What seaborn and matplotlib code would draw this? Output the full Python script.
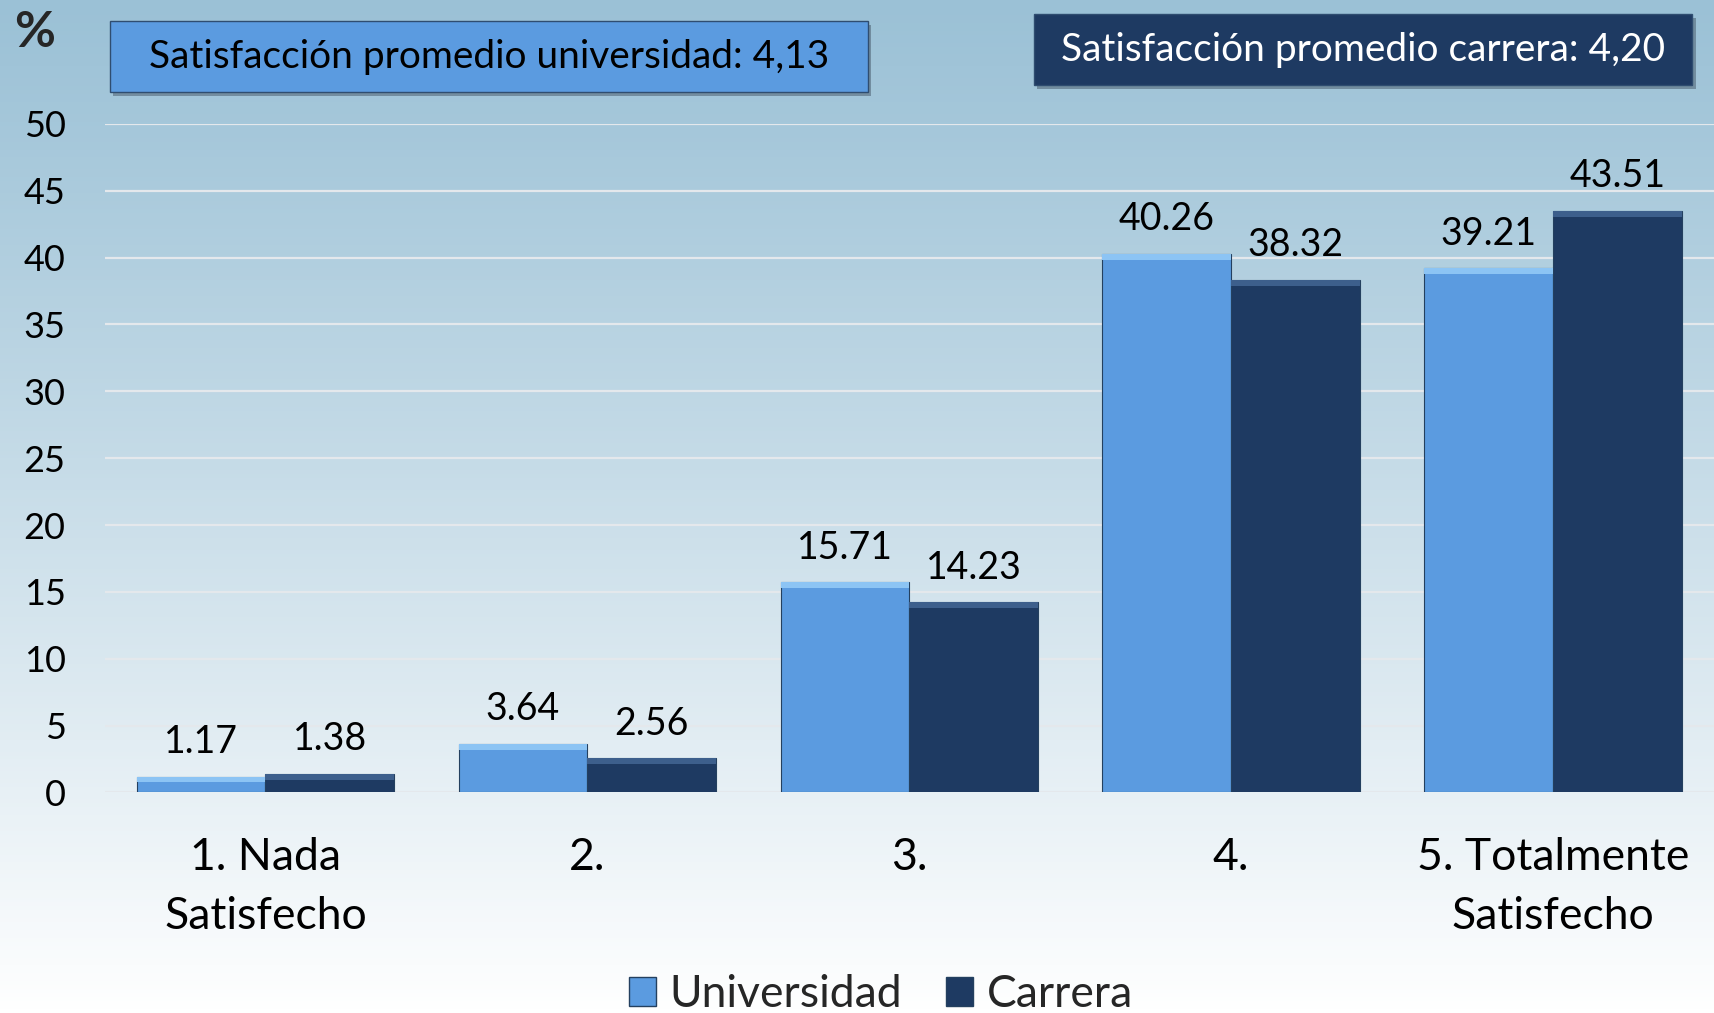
import numpy as np
import pandas as pd
import matplotlib
matplotlib.use("Agg")
import matplotlib.pyplot as plt
import seaborn as sns
from matplotlib.patches import Rectangle, Patch

# data
categories = ["1. Nada\nSatisfecho", "2.", "3.", "4.", "5. Totalmente\nSatisfecho"]
universidad = [1.17, 3.64, 15.71, 40.26, 39.21]
carrera = [1.38, 2.56, 14.23, 38.32, 43.51]
series_names = ["Universidad", "Carrera"]
avg_labels = ["Satisfacción promedio universidad: 4,13", "Satisfacción promedio carrera: 4,20"]
y_ticks = list(range(0, 55, 5))

colors = {"Universidad": "#5b9be0", "Carrera": "#1e3a62"}
tops = {"Universidad": "#8cc4f4", "Carrera": "#3d5f8c"}

df = pd.DataFrame({
    "cat": categories * 2,
    "serie": [series_names[0]] * 5 + [series_names[1]] * 5,
    "valor": universidad + carrera,
})

sns.set_theme(style="white")
plt.rcParams["font.family"] = ["Lato", "DejaVu Sans"]

fig = plt.figure(figsize=(17.14, 10.13), dpi=100)

# gradient background
bg = fig.add_axes([0, 0, 1, 1], zorder=-10)
grad = np.linspace(0, 1, 256).reshape(-1, 1)
top_c = np.array([155, 193, 214]) / 255
bot_c = np.array([255, 255, 255]) / 255
img = top_c + (bot_c - top_c) * grad ** 1.1
img = np.repeat(img[:, None, :], 2, axis=1)
bg.imshow(img, aspect="auto", extent=[0, 1, 0, 1])
bg.axis("off")

ax = fig.add_axes([0.061, 0.2177, 0.939, 0.66])
ax.patch.set_alpha(0)
sns.barplot(data=df, x="cat", y="valor", hue="serie", palette=colors,
            width=0.8, gap=0, saturation=1, ax=ax, legend=False, zorder=3,
            edgecolor="#24405f", linewidth=0.8)

ax.set_ylim(0, 50)
ax.set_yticks(y_ticks)
ax.set_xlim(-0.5, 4.5)
ax.yaxis.grid(True, color="#e4e8ec", linewidth=1.6, zorder=0)
for s in ax.spines.values():
    s.set_visible(False)
ax.set_xlabel("")
ax.set_ylabel("")
ax.tick_params(axis="y", labelsize=26, pad=28, length=0)
ax.tick_params(axis="x", labelsize=32, pad=32, length=0)
for t in ax.get_yticklabels():
    t.set_color("black")
for t in ax.get_xticklabels():
    t.set_color("black")
    t.set_linespacing(1.55)

# bevel strip and labels
for cont, name in zip(ax.containers, series_names):
    for bar in cont:
        h = bar.get_height()
        strip = min(0.45, h * 0.35)
        ax.add_patch(Rectangle((bar.get_x(), h - strip), bar.get_width(), strip,
                               facecolor=tops[name], edgecolor="none", zorder=4))
    ax.bar_label(cont, fmt="%.2f", padding=12, fontsize=27, color="black")

# "%" mark
fig.text(0.008, 0.968, "%", fontsize=36, fontweight="bold", va="center", ha="left")

# average boxes
boxes = [
    (0.0642, 0.909, 0.442, 0.070, "#5b9be0", "black"),
    (0.6033, 0.916, 0.384, 0.070, "#1e3a62", "white"),
]
for (x0, y0, w, h, fc, tc), txt in zip(boxes, avg_labels):
    fig.patches.append(Rectangle((x0 + 0.002, y0 - 0.004), w, h, transform=fig.transFigure,
                                 facecolor="#54697a", alpha=0.6, edgecolor="none", zorder=1))
    fig.patches.append(Rectangle((x0, y0), w, h, transform=fig.transFigure,
                                 facecolor=fc, edgecolor="#2f4d70", linewidth=1.0, zorder=2))
    fig.text(x0 + w / 2, y0 + h / 2, txt, fontsize=28, color=tc, ha="center", va="center", zorder=3)

handles = [Patch(facecolor=colors[n], edgecolor="#24405f", label=n) for n in series_names]
fig.legend(handles=handles, loc="center", bbox_to_anchor=(0.514, 0.018), ncol=2,
           frameon=False, fontsize=32, handlelength=0.6, handleheight=0.6,
           handletextpad=0.3, columnspacing=1.0)

fig.savefig("out.png", dpi=100)
